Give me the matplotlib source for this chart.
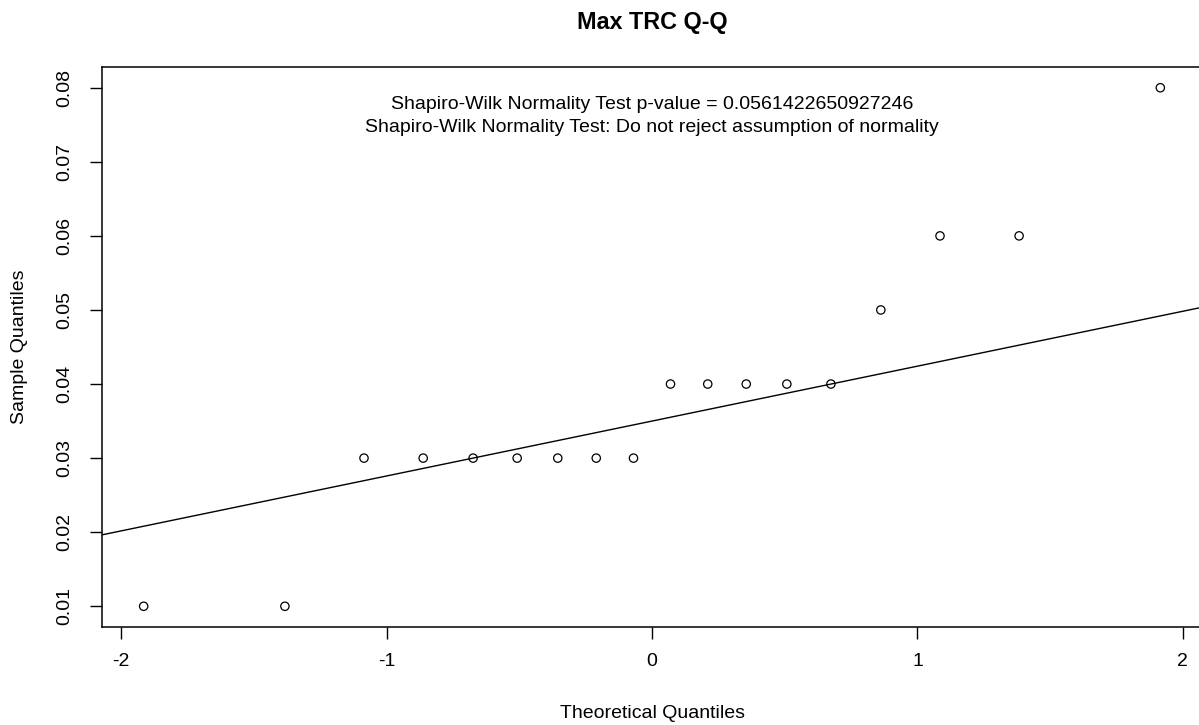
import numpy as np
import matplotlib
matplotlib.use("Agg")
import matplotlib.pyplot as plt

plt.rcParams['font.family'] = ['Liberation Sans', 'DejaVu Sans']

theoretical = [-1.915, -1.383, -1.085, -0.862, -0.674, -0.508, -0.355, -0.210, -0.0697,
               0.0697, 0.210, 0.355, 0.508, 0.674, 0.862, 1.085, 1.383, 1.915]
sample = [0.01, 0.01, 0.03, 0.03, 0.03, 0.03, 0.03, 0.03, 0.03,
          0.04, 0.04, 0.04, 0.04, 0.04, 0.05, 0.06, 0.06, 0.08]
xticks = [-2, -1, 0, 1, 2]
yticks = [0.01, 0.02, 0.03, 0.04, 0.05, 0.06, 0.07, 0.08]
title = "Max TRC Q-Q"
note1 = "Shapiro-Wilk Normality Test p-value = 0.0561422650927246"
note2 = "Shapiro-Wilk Normality Test: Do not reject assumption of normality"

# qqline through quartiles
y_sorted = np.sort(sample)
q1, q3 = np.percentile(y_sorted, [25, 75])
z = 0.6744898
slope = (q3 - q1) / (2 * z)
intercept = q1 + z * slope

W, H = 1199, 725
fig = plt.figure(figsize=(W / 100, H / 100), dpi=100)
ax = fig.add_axes([102 / W, 98 / H, 1100 / W, 560 / H])
ax.scatter(theoretical, sample, s=36, facecolors='none', edgecolors='black', linewidths=0.9, zorder=3)
xlim = (-2.072, 2.072)
xs = np.array(xlim)
ax.plot(xs, intercept + slope * xs, color='black', lw=1.0)
ax.set_xlim(*xlim)
ax.set_ylim(0.0072, 0.0828)
ax.set_xticks(xticks)
ax.set_xticklabels([str(t) for t in xticks])
ax.set_yticks(yticks)
ax.set_yticklabels([f"{t:.2f}" for t in yticks], rotation=90, va='center')
ax.tick_params(direction='out', length=8.5, width=1, labelsize=14)
ax.tick_params(axis='x', pad=10)
ax.tick_params(axis='y', pad=12)
for s in ax.spines.values():
    s.set_linewidth(1.1)
fig.text(652 / W, 1 - 713 / H, "Theoretical Quantiles", ha='center', va='center', fontsize=14)
fig.text(20 / W, 1 - 347 / H, "Sample Quantiles", ha='center', va='center', fontsize=14, rotation=90)
fig.text(652 / W, 1 - 22 / H, title, ha='center', va='center', fontsize=16.8, fontweight='bold')
ax.text(0.0, 0.0778, note1, ha='center', va='center', fontsize=14)
ax.text(0.0, 0.07468, note2, ha='center', va='center', fontsize=14)
fig.savefig("out.png", dpi=100)
